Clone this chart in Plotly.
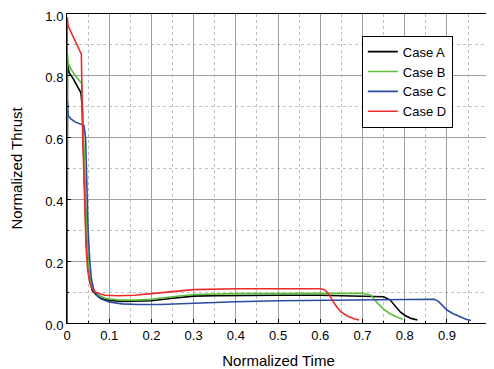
import plotly.graph_objects as go

# Case A (black)
t_a = [0, 0.001, 0.005, 0.015, 0.025, 0.033, 0.036, 0.04, 0.045, 0.05, 0.055, 0.06, 0.07, 0.08, 0.1, 0.13, 0.16, 0.2, 0.25, 0.3, 0.35, 0.4, 0.5, 0.6, 0.7, 0.75, 0.765, 0.78, 0.79, 0.8, 0.815, 0.83]
y_a = [0, 0.84, 0.81, 0.79, 0.765, 0.745, 0.70, 0.50, 0.30, 0.18, 0.13, 0.105, 0.09, 0.08, 0.073, 0.07, 0.07, 0.072, 0.08, 0.087, 0.088, 0.089, 0.09, 0.09, 0.088, 0.085, 0.075, 0.05, 0.035, 0.025, 0.015, 0.01]

# Case B (green)
t_b = [0, 0.001, 0.003, 0.01, 0.02, 0.03, 0.035, 0.038, 0.042, 0.047, 0.052, 0.058, 0.065, 0.075, 0.09, 0.12, 0.16, 0.2, 0.25, 0.3, 0.4, 0.5, 0.6, 0.7, 0.72, 0.735, 0.75, 0.765, 0.78, 0.795]
y_b = [0, 0.87, 0.84, 0.82, 0.80, 0.785, 0.775, 0.65, 0.45, 0.27, 0.17, 0.12, 0.10, 0.09, 0.08, 0.075, 0.074, 0.077, 0.085, 0.092, 0.095, 0.096, 0.097, 0.096, 0.09, 0.065, 0.045, 0.03, 0.02, 0.012]

# Case C (blue)
t_c = [0, 0.001, 0.003, 0.01, 0.02, 0.03, 0.04, 0.044, 0.047, 0.05, 0.054, 0.058, 0.063, 0.07, 0.08, 0.1, 0.13, 0.17, 0.22, 0.3, 0.4, 0.5, 0.6, 0.7, 0.8, 0.87, 0.88, 0.89, 0.9, 0.915, 0.93, 0.945, 0.957]
y_c = [0, 0.72, 0.67, 0.66, 0.65, 0.645, 0.64, 0.60, 0.45, 0.30, 0.20, 0.14, 0.11, 0.09, 0.078, 0.068, 0.062, 0.06, 0.06, 0.065, 0.069, 0.072, 0.073, 0.075, 0.077, 0.077, 0.07, 0.055, 0.042, 0.03, 0.02, 0.012, 0.008]

# Case D (red)
t_d = [0, 0.0005, 0.003, 0.01, 0.02, 0.03, 0.034, 0.037, 0.041, 0.045, 0.049, 0.054, 0.06, 0.067, 0.077, 0.09, 0.12, 0.16, 0.2, 0.25, 0.3, 0.4, 0.5, 0.6, 0.61, 0.62, 0.63, 0.64, 0.65, 0.665, 0.68, 0.692]
y_d = [0, 0.99, 0.96, 0.94, 0.91, 0.885, 0.87, 0.62, 0.42, 0.25, 0.17, 0.13, 0.11, 0.10, 0.095, 0.09, 0.088, 0.09, 0.095, 0.102, 0.108, 0.111, 0.112, 0.111, 0.108, 0.095, 0.07, 0.05, 0.035, 0.022, 0.014, 0.01]

names = ["Case A", "Case B", "Case C", "Case D"]
colors = ["#000000", "#5cbf3a", "#2b4ba0", "#ee2a2a"]
series = [(t_a, y_a), (t_b, y_b), (t_c, y_c), (t_d, y_d)]

x_ticks = [0, 0.1, 0.2, 0.3, 0.4, 0.5, 0.6, 0.7, 0.8, 0.9, 1]
x_labels = ["0", "0.1", "0.2", "0.3", "0.4", "0.5", "0.6", "0.7", "0.8", "0.9", "1"]
y_ticks = [0, 0.2, 0.4, 0.6, 0.8, 1.0]
y_labels = ["0.0", "0.2", "0.4", "0.6", "0.8", "1.0"]

fig = go.Figure()
for (t, y), n, c in zip(series, names, colors):
    fig.add_trace(go.Scatter(x=t, y=y, mode="lines", name=n, line=dict(color=c, width=1.6)))

font = "Liberation Sans, Arial, sans-serif"

# the tick label at the right end of the x axis is dropped by the renderer,
# so place it as text at the same axis position
fig.add_annotation(x=x_ticks[-1], xref="x", y=0, yref="paper", yanchor="top",
                   xanchor="center", text=x_labels[-1], showarrow=False, yshift=-2,
                   font=dict(family=font, size=13, color="black"))

fig.update_layout(
    width=486, height=361,
    margin=dict(l=59, r=4, t=6, b=46, autoexpand=False),
    paper_bgcolor="white", plot_bgcolor="white",
    font=dict(family=font, size=13, color="black"),
    legend=dict(x=0.697, y=0.93, xanchor="left", yanchor="top",
                bordercolor="black", borderwidth=1, bgcolor="white",
                font=dict(size=13, family=font), tracegroupgap=0),
    xaxis=dict(range=[0, 1.002], tickvals=x_ticks[:-1], ticktext=x_labels[:-1],
               showline=True, linecolor="black", linewidth=1, mirror=True,
               ticks="inside", ticklen=4, tickcolor="black",
               ticklabeloverflow="allow",
               showgrid=True, gridcolor="#a0a0a0", gridwidth=1, zeroline=False,
               minor=dict(dtick=0.05, tick0=0, ticks="inside", ticklen=2, tickcolor="black",
                          showgrid=True, gridcolor="#c0c0c0", griddash="dot", gridwidth=1),
               automargin=False,
               title=dict(text="Normalized Time", font=dict(size=15), standoff=14)),
    yaxis=dict(range=[0, 1], tickvals=y_ticks, ticktext=y_labels,
               showline=True, linecolor="black", linewidth=1, mirror=True,
               ticks="inside", ticklen=4, tickcolor="black",
               ticklabeloverflow="allow", ticklabelshift=2,
               showgrid=True, gridcolor="#a0a0a0", gridwidth=1, zeroline=False,
               minor=dict(dtick=0.1, tick0=0, ticks="inside", ticklen=2, tickcolor="black",
                          showgrid=True, gridcolor="#c0c0c0", griddash="dot", gridwidth=1),
               automargin=False,
               title=dict(text="Normalized Thrust", font=dict(size=15), standoff=19)),
)
fig.write_html("out.html")
